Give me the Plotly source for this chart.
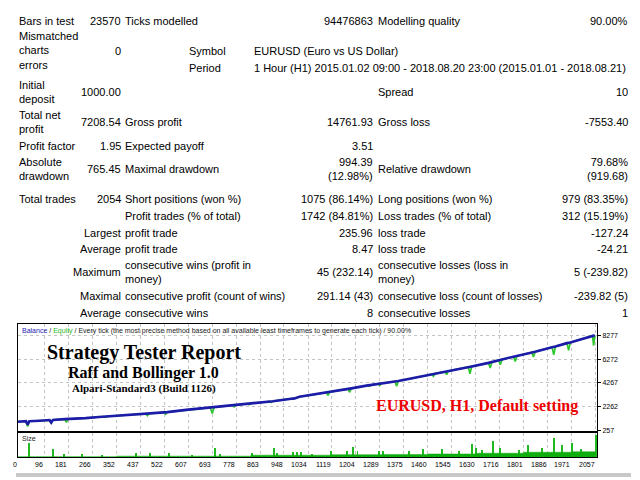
import plotly.graph_objects as go

W, H = 640, 480

# ---- report table text ----
col_a = ["Bars in test", "Mismatched<br>charts<br>errors", "Initial<br>deposit", "Total net<br>profit",
         "Profit factor", "Absolute<br>drawdown", "Total trades", "", "", "", "", "", ""]
col_b = ["23570", "0", "1000.00", "7208.54", "1.95", "765.45", "2054", "",
         "Largest", "Average", "Maximum", "Maximal", "Average"]
col_c = ["Ticks modelled", "", "", "Gross profit", "Expected payoff", "Maximal drawdown",
         "Short positions (won %)", "Profit trades (% of total)", "profit trade", "profit trade",
         "consecutive wins (profit in<br>money)", "consecutive profit (count of wins)", "consecutive wins"]
col_e = ["94476863", "", "", "14761.93", "3.51", "994.39<br>(12.98%)", "1075 (86.14%)", "1742 (84.81%)",
         "235.96", "8.47", "45 (232.14)", "291.14 (43)", "8"]
col_f = ["Modelling quality", "", "Spread", "Gross loss", "", "Relative drawdown",
         "Long positions (won %)", "Loss trades (% of total)", "loss trade", "loss trade",
         "consecutive losses (loss in<br>money)", "consecutive loss (count of losses)", "consecutive losses"]
col_g = ["90.00%", "", "10", "-7553.40", "", "79.68%<br>(919.68)", "979 (83.35%)", "312 (15.19%)",
         "-127.24", "-24.21", "5 (-239.82)", "-239.82 (5)", "1"]
symbol_label = ["Symbol", "Period"]
symbol_value = ["EURUSD (Euro vs US Dollar)",
                "1 Hour (H1) 2015.01.02 09:00 - 2018.08.20 23:00 (2015.01.01 - 2018.08.21)"]

# ---- chart data (trade number, balance, equity) ----
trades = [0, 20, 30, 36, 42, 80, 114, 120, 126, 168,
          174, 180, 230, 236, 242, 290, 307, 313, 319, 408,
          456, 462, 468, 521, 527, 533, 600, 686, 693, 700,
          765, 771, 777, 819, 825, 831, 885, 897, 903, 909,
          974, 980, 986, 1003, 1060, 1099, 1105, 1111, 1123, 1176,
          1182, 1188, 1242, 1247, 1253, 1259, 1283, 1289, 1295, 1343,
          1349, 1355, 1420, 1474, 1480, 1486, 1521, 1527, 1533, 1599,
          1604, 1610, 1616, 1676, 1682, 1688, 1712, 1718, 1724, 1765,
          1771, 1777, 1830, 1836, 1842, 1902, 1908, 1914, 1955, 1961,
          1967, 2000, 2040, 2046, 2050, 2054]
balance = [1000, 1030, 1045, 760, 1045, 1090, 1145, 925, 1155, 1225,
           1230, 1235, 1290, 1300, 1305, 1400, 1430, 1440, 1450, 1590,
           1665, 1670, 1680, 1795, 1800, 1810, 2000, 2195, 2210, 2225,
           2380, 2390, 2400, 2520, 2530, 2545, 2680, 2710, 2720, 2730,
           2935, 2950, 2965, 3100, 3300, 3470, 3490, 3505, 3560, 3770,
           3790, 3805, 4040, 4060, 4080, 4100, 4180, 4200, 4220, 4390,
           4410, 4425, 4720, 4990, 5020, 5050, 5200, 5230, 5260, 5570,
           5600, 5620, 5640, 5950, 5980, 6000, 6180, 6210, 6240, 6470,
           6500, 6530, 6830, 6860, 6890, 7270, 7300, 7330, 7610, 7640,
           7670, 7900, 8200, 8230, 8240, 8208]
equity = [1000, 1030, 1045, 600, 1045, 1090, 1145, 870, 1155, 1225,
          950, 1235, 1290, 1240, 1305, 1400, 1430, 1370, 1450, 1590,
          1665, 1510, 1680, 1795, 1640, 1810, 2000, 2195, 1700, 2225,
          2380, 2260, 2400, 2520, 2430, 2545, 2680, 2710, 2620, 2730,
          2935, 2880, 2965, 3100, 3300, 3470, 3210, 3505, 3560, 3770,
          3480, 3805, 4040, 4060, 3990, 4100, 4180, 4050, 4220, 4390,
          3980, 4425, 4720, 4990, 4820, 5050, 5200, 4960, 5260, 5570,
          5600, 5040, 5640, 5950, 5520, 6000, 6180, 5800, 6240, 6470,
          6070, 6530, 6830, 6440, 6890, 7270, 6630, 7330, 7610, 7000,
          7670, 7900, 8200, 8230, 7400, 8208]

# lot size panel: baseline steps and the taller spikes
size_base_trade = [0, 352, 831, 1119, 1300, 1460, 1630, 1801, 1971, 2057]
size_base = [0.02, 0.04, 0.08, 0.10, 0.11, 0.13, 0.16, 0.20, 0.22, 0.22]
spike_trade = [39, 123, 164, 229, 300, 420, 468, 539, 620, 700, 718, 831, 911, 920, 979, 993, 1007, 1045,
               1114, 1170, 1191, 1208, 1285, 1298, 1392, 1440, 1509, 1569, 1614, 1631, 1652, 1691, 1715,
               1783, 1813, 1864, 1908, 1935, 1970, 2005, 2057]
spike_size = [0.57, 0.36, 0.13, 0.15, 0.08, 0.17, 0.19, 0.19, 0.10, 0.39, 0.13, 0.19, 0.39, 0.17, 0.21,
              0.21, 0.21, 0.15, 0.27, 0.27, 0.43, 0.27, 0.27, 0.27, 0.27, 0.36, 0.33, 0.27, 0.56, 0.40,
              0.31, 0.67, 0.40, 0.31, 0.49, 0.40, 0.80, 0.49, 0.57, 0.36, 0.90]

x_ticks = [0, 96, 181, 266, 352, 437, 522, 607, 693, 778, 863, 948, 1034, 1119, 1204, 1289, 1375,
           1460, 1545, 1630, 1716, 1801, 1886, 1971, 2057]
y_ticks = [257, 2262, 4267, 6272, 8277]


def px_x(p):
    return p / W


def px_y(p):
    return 1 - p / H


fig = go.Figure()
fig.add_trace(go.Scatter(x=trades, y=equity, mode="lines", line=dict(color="#2ec82e", width=1.7),
                         xaxis="x", yaxis="y", hoverinfo="skip"))
fig.add_trace(go.Scatter(x=trades, y=balance, mode="lines", line=dict(color="#1c1ca8", width=2.6),
                         xaxis="x", yaxis="y", hoverinfo="skip"))
fig.add_trace(go.Scatter(x=size_base_trade, y=size_base, mode="lines", line=dict(color="#0fae0f", width=0.5, shape="hv"),
                         fill="tozeroy", fillcolor="#0fae0f", xaxis="x2", yaxis="y2", hoverinfo="skip"))
fig.add_trace(go.Bar(x=spike_trade, y=spike_size, width=3.5, marker=dict(color="#22b822", line_width=0),
                     xaxis="x2", yaxis="y2", hoverinfo="skip"))

grid = dict(showgrid=True, gridcolor="#c4c4c4", griddash="3px,3px", gridwidth=1, zeroline=False,
            showline=True, linecolor="black", linewidth=1, mirror=True)
dom_x = [px_x(17.5), px_x(597)]
fig.update_layout(
    width=W, height=H, margin=dict(l=0, r=0, t=0, b=0), autosize=False,
    paper_bgcolor="white", plot_bgcolor="white", showlegend=False, bargap=0,
    xaxis=dict(domain=dom_x, range=[0, 2062], anchor="y", tickvals=x_ticks, showticklabels=False, **grid),
    yaxis=dict(domain=[px_y(433.3), px_y(326.5)], range=[257, 9180], side="right", anchor="x",
               tickvals=y_ticks, ticks="outside", ticklen=3, tickcolor="black",
               tickfont=dict(size=7, color="black", family="Liberation Sans, Arial"), **grid),
    xaxis2=dict(domain=dom_x, range=[0, 2062], anchor="y2", matches="x", tickvals=x_ticks,
                showticklabels=False, **grid),
    yaxis2=dict(domain=[px_y(460), px_y(435.5)], range=[0, 1], anchor="x2", showticklabels=False,
                showgrid=False, zeroline=False, showline=True, linecolor="black", mirror=True),
)

# x tick labels, right aligned to the tick like the tester does
for t in x_ticks:
    fig.add_annotation(x=t, xref="x", y=px_y(467.5), yref="paper", text=str(t), showarrow=False,
                       xanchor="right", yanchor="middle", borderpad=0,
                       font=dict(size=7, color="black", family="Liberation Sans, Arial"))

# table
row_y = [21, 51, 93, 123, 147, 170, 200, 217, 234, 251, 274, 298, 315]
tfont = dict(size=11, color="black", family="Liberation Sans, Arial")


def put(text, x, y, anchor):
    if not text:
        return
    fig.add_annotation(x=px_x(x), y=px_y(y), xref="paper", yref="paper", text=text, showarrow=False,
                       xanchor=anchor, yanchor="middle", align=anchor, borderpad=0, font=tfont)


for i, y in enumerate(row_y):
    put(col_a[i], 18, y, "left")
    put(col_b[i], 122, y, "right")
    put(col_c[i], 124, y, "left")
    put(col_e[i], 374, y, "right")
    put(col_f[i], 377, y, "left")
    put(col_g[i], 629, y, "right")
for lab, val, y in zip(symbol_label, symbol_value, [51, 68]):
    put(lab, 188, y, "left")
    put(val, 253, y, "left")

# chart captions
fig.add_annotation(x=px_x(21), y=px_y(333), xref="paper", yref="paper", showarrow=False, xanchor="left",
                   yanchor="middle", borderpad=0, font=dict(size=7, color="#222", family="Liberation Sans, Arial"),
                   text="<span style='color:#2424b4'>Balance</span> / <span style='color:#2dbb2d'>Equity</span>"
                        " / Every tick (the most precise method based on all available least timeframes to generate each tick) / 90.00%")
fig.add_annotation(x=px_x(21), y=px_y(441), xref="paper", yref="paper", showarrow=False, xanchor="left",
                   yanchor="middle", borderpad=0, text="Size",
                   font=dict(size=7, color="#222", family="Liberation Sans, Arial"))
serif = "Liberation Serif, Times New Roman"
for txt, size, y in [("Strategy Tester Report", 20, 354.5), ("Raff and Bollinger 1.0", 16, 375),
                     ("Alpari-Standard3 (Build 1126)", 11, 391)]:
    fig.add_annotation(x=px_x(143.5), y=px_y(y), xref="paper", yref="paper", showarrow=False,
                       xanchor="center", yanchor="middle", borderpad=0, text="<b>%s</b>" % txt,
                       font=dict(size=size, color="black", family=serif))
fig.add_annotation(x=px_x(477), y=px_y(409), xref="paper", yref="paper", showarrow=False,
                   xanchor="center", yanchor="middle", borderpad=0, text="<b>EURUSD, H1, Default setting</b>",
                   font=dict(size=16, color="#ee0000", family=serif))

# grey strip under the chart
fig.add_shape(type="rect", xref="paper", yref="paper", x0=px_x(16), x1=px_x(631), y0=px_y(480), y1=px_y(476),
              fillcolor="#c8c8c8", line_width=0, layer="above")

fig.write_html("out.html", config={"displayModeBar": False},
               post_script="document.body.style.margin='0';")
